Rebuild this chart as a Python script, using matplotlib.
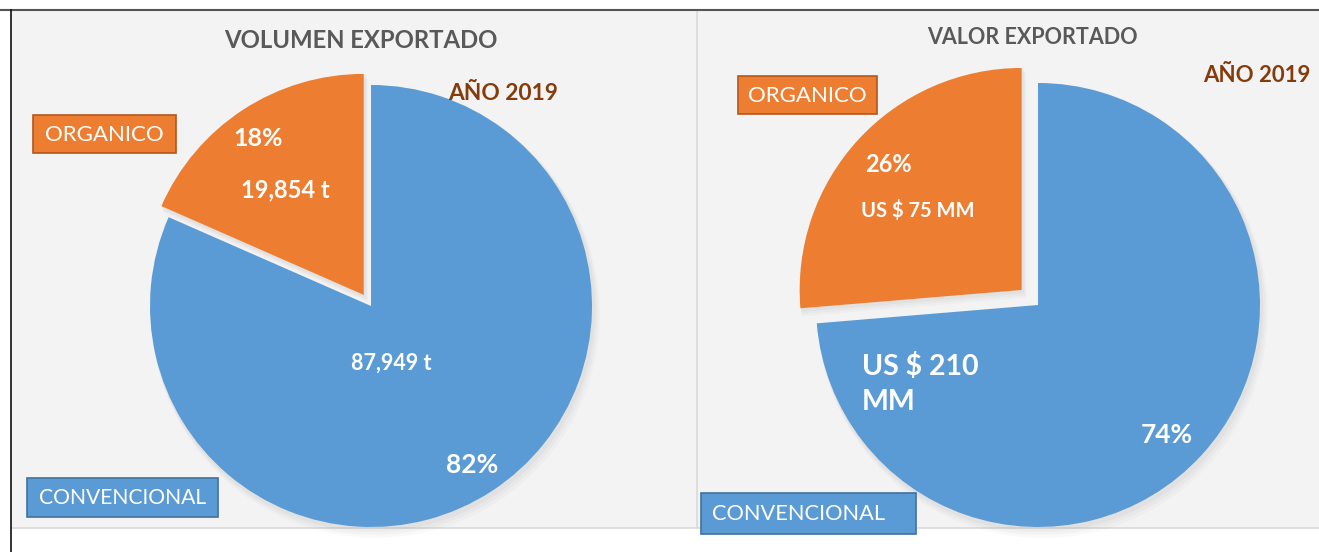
import matplotlib
matplotlib.use('Agg')
import matplotlib.pyplot as plt
from matplotlib.patches import Rectangle

plt.rcParams['font.family'] = ['Lato', 'DejaVu Sans']

# datos
categorias = ['CONVENCIONAL', 'ORGANICO']
volumen_t = [87949, 19854]
valor_mm = [210, 75]
anio = 'AÑO 2019'

azul = '#5B9BD5'
naranja = '#ED7D31'

W, H = 1319, 552
fig = plt.figure(figsize=(W / 100, H / 100), dpi=100)

# capa de fondo en pixeles
bg = fig.add_axes([0, 0, 1, 1])
bg.set_xlim(0, W)
bg.set_ylim(H, 0)
bg.axis('off')
bg.add_patch(Rectangle((11, 11), 686, 517, facecolor='#f3f3f3', edgecolor='none'))
bg.add_patch(Rectangle((697, 11), 622, 517, facecolor='#f3f3f3', edgecolor='none'))
bg.plot([11, W], [528, 528], color='#d9d9d9', lw=1.2)
bg.plot([697, 697], [11, 528], color='#d9d9d9', lw=1.2)
bg.plot([0, W], [10, 10], color='#555555', lw=1.5)
bg.plot([11, 11], [10, H], color='#111111', lw=1.2)


# naranja va de 90 grados hacia la izquierda
def pie_panel(cx, cy, r, valores, explode):
    half = 1.2 * r
    ax = fig.add_axes([(cx - half) / W, (H - cy - half) / H, 2 * half / W, 2 * half / H])
    # sombra suave en capas
    for k, a in [(0.035, 0.05), (0.025, 0.07), (0.015, 0.08)]:
        ax.pie(valores[::-1], colors=['#9a9a9a', '#9a9a9a'], startangle=90,
               explode=[explode, 0], radius=1 + k * 0.4, center=(k * 0.6, -k),
               wedgeprops={'alpha': a, 'linewidth': 0})
    ax.pie(valores[::-1], colors=[naranja, azul], startangle=90, counterclock=True,
           explode=[explode, 0], radius=1, wedgeprops={'linewidth': 0})
    ax.set_xlim(-1.2, 1.2)
    ax.set_ylim(-1.2, 1.2)
    ax.set_aspect('auto')
    ax.axis('off')
    return ax


pie_panel(371, 306, 221, volumen_t, 0.06)
pie_panel(1038, 305, 222, valor_mm, 0.1)

txt = fig.add_axes([0, 0, 1, 1])
txt.set_xlim(0, W)
txt.set_ylim(H, 0)
txt.axis('off')
txt.patch.set_alpha(0)


def caja(x, y, w, h, color, borde, texto, fs, tx=None):
    txt.add_patch(Rectangle((x, y), w, h, facecolor=color, edgecolor=borde, lw=1.2))
    if tx is None:
        txt.text(x + w / 2, y + h / 2 + 1, texto, color='white', fontsize=fs,
                 ha='center', va='center')
    else:
        txt.text(tx, y + h / 2 + 1, texto, color='white', fontsize=fs,
                 ha='left', va='center')


# panel izquierdo
txt.text(361, 41, 'VOLUMEN EXPORTADO', color='#595959', fontsize=17.2,
         fontweight='bold', ha='center', va='center')
txt.text(503, 93, anio, color='#843C0C', fontsize=16.4, fontweight='bold',
         ha='center', va='center')
caja(33, 115, 143, 38, naranja, '#B4561E', categorias[1], 16)
caja(27, 478, 191, 39, azul, '#41719C', categorias[0], 15.2)
pct_v = [round(100 * v / sum(volumen_t)) for v in volumen_t]
txt.text(258, 138, f'{pct_v[1]}%', color='white', fontsize=18, fontweight='bold',
         ha='center', va='center')
txt.text(285, 190, f'{volumen_t[1]:,} t', color='white', fontsize=17, fontweight='bold',
         ha='center', va='center')
txt.text(391, 363, f'{volumen_t[0]:,} t', color='white', fontsize=15.5, fontweight='bold',
         ha='center', va='center')
txt.text(472, 465, f'{pct_v[0]}%', color='white', fontsize=19, fontweight='bold',
         ha='center', va='center')

# panel derecho
txt.text(1032, 38, 'VALOR EXPORTADO', color='#595959', fontsize=15.5,
         fontweight='bold', ha='center', va='center')
txt.text(1257, 76, anio, color='#843C0C', fontsize=16, fontweight='bold',
         ha='center', va='center')
caja(738, 76, 139, 38, naranja, '#B4561E', categorias[1], 16)
caja(701, 493, 215, 41, azul, '#41719C', categorias[0], 15.7, tx=712)
pct_d = [round(100 * v / sum(valor_mm)) for v in valor_mm]
txt.text(888, 164, f'{pct_d[1]}%', color='white', fontsize=17, fontweight='bold',
         ha='center', va='center')
txt.text(918, 210, f'US $ {valor_mm[1]} MM', color='white', fontsize=14.5, fontweight='bold',
         ha='center', va='center')
txt.text(862, 384, f'US $ {valor_mm[0]}\nMM', color='white', fontsize=20.5, fontweight='bold',
         ha='left', va='center', linespacing=1.4)
txt.text(1167, 435, f'{pct_d[0]}%', color='white', fontsize=19, fontweight='bold',
         ha='center', va='center')

fig.savefig('out.png', dpi=100)
